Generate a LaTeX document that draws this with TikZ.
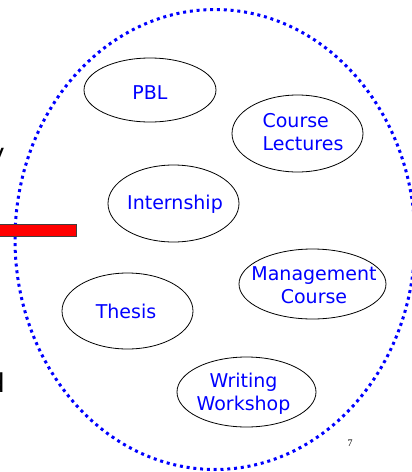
\documentclass[tikz,border=0pt]{standalone}
\usepackage{fontspec}
\setmainfont{DejaVu Sans}
\newfontfamily\numfont{Liberation Serif}
\usetikzlibrary{shapes.geometric}
\begin{document}
\begin{tikzpicture}[x=1pt,y=-1pt,
  topic/.style={ellipse, draw=black, line width=0.8pt, inner sep=0pt},
  topictext/.style={inner sep=0pt, text=blue, font=\fontsize{19}{23}\selectfont, align=center},
  scopeline/.style={ellipse, draw=blue, line width=3pt,
    dash pattern=on 3pt off 3.8pt, inner sep=0pt},
  edgetext/.style={inner sep=0pt, anchor=east, font=\fontsize{26}{30}\selectfont}]
\useasboundingbox (0,0) rectangle (412,472);
\node[scopeline, minimum width=400pt, minimum height=460pt] (scope) at (215,239.5) {};
\node[draw=black!75, line width=0.6pt, fill=red, minimum width=92pt, minimum height=12pt, inner sep=0pt, anchor=east] (bar) at (77,230) {};
\node[edgetext] (ly) at (5,158) {y};
\node[edgetext] (ld) at (5,383) {d};
\node[topic, minimum width=132pt, minimum height=64pt] (pbl) at (150,90) {};
\node[topictext] (pblt) at (150,93) {PBL};
\node[topic, minimum width=131pt, minimum height=77pt] (lect) at (297.5,133.5) {};
\node[topictext, align=left] (lectt) at (303,132) {Course\\Lectures};
\node[topic, minimum width=131pt, minimum height=77pt] (intern) at (173.5,203.5) {};
\node[topictext] (internt) at (175,204) {Internship};
\node[topic, minimum width=131pt, minimum height=76pt] (thesis) at (127.5,311) {};
\node[topictext] (thesist) at (126,311) {Thesis};
\node[topic, minimum width=147pt, minimum height=70pt] (mgmt) at (312.5,284) {};
\node[topictext] (mgmtt) at (314,285) {Management\\Course};
\node[topic, minimum width=139pt, minimum height=70pt] (write) at (246.5,392) {};
\node[topictext] (writet) at (243.5,394) {Writing\\Workshop};
\node[inner sep=0pt, font=\numfont\fontsize{10}{12}\selectfont, text=black] (page) at (350,443) {7};
\end{tikzpicture}
\end{document}
